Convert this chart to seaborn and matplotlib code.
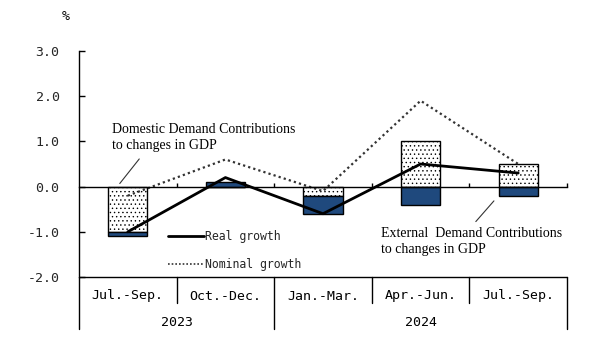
import numpy as np
import pandas as pd
import matplotlib
matplotlib.use("Agg")
import matplotlib.pyplot as plt
from matplotlib.lines import Line2D
import seaborn as sns

# ---- data ----
years = ["2023", "2023", "2024", "2024", "2024"]
quarters = ["Jul.-Sep.", "Oct.-Dec.", "Jan.-Mar.", "Apr.-Jun.", "Jul.-Sep."]
domestic = [-1.0, 0.0, -0.2, 1.0, 0.5]
external = [-0.1, 0.1, -0.4, -0.4, -0.2]
real_growth = [-1.0, 0.2, -0.6, 0.5, 0.3]
nominal_growth = [-0.2, 0.6, -0.1, 1.9, 0.5]
y_ticks = [-2.0, -1.0, 0.0, 1.0, 2.0, 3.0]

keys = [f"{y} {q}" for y, q in zip(years, quarters)]
# external stacks on domestic when both have the same sign
ext_bottom = [d if (d * e > 0) else 0.0 for d, e in zip(domestic, external)]
df = pd.DataFrame({"key": keys, "domestic": domestic, "external": external,
                   "bottom": ext_bottom, "real": real_growth,
                   "nominal": nominal_growth, "pos": np.arange(len(keys))})

sns.set_theme(style="white")
plt.rcParams["font.family"] = ["DejaVu Sans Mono"]
plt.rcParams["hatch.linewidth"] = 0.5

fig = plt.figure(figsize=(6.06, 3.42), dpi=100)
ax = fig.add_axes([79 / 606, 65 / 342, 488 / 606, 226 / 342])

BLUE = "#1F497D"
sns.barplot(data=df, x="key", y="domestic", order=keys, color="white",
            edgecolor="black", linewidth=1.0, hatch="....", width=0.4,
            saturation=1, ax=ax)
sns.barplot(data=df, x="key", y="external", order=keys, color=BLUE,
            edgecolor="black", linewidth=1.0, width=0.4, saturation=1,
            bottom=df["bottom"].values, ax=ax)

sns.lineplot(data=df, x="pos", y="real", color="black", linewidth=2.0, ax=ax,
             legend=False)
sns.lineplot(data=df, x="pos", y="nominal", color="#333333", linewidth=1.6,
             linestyle=(0, (1, 1.4)), ax=ax, legend=False)

n = len(keys)
ax.set_xlim(-0.5, n - 0.5)
ax.set_ylim(-2.0, 3.0)

# spines
for s in ["top", "right"]:
    ax.spines[s].set_visible(False)
ax.spines["left"].set_color("black")
ax.spines["left"].set_linewidth(1.0)
ax.spines["bottom"].set_position(("data", 0.0))
ax.spines["bottom"].set_color("black")
ax.spines["bottom"].set_linewidth(1.0)

ax.set_yticks(y_ticks)
ax.set_yticklabels([f"{v:.1f}" for v in y_ticks], fontsize=9.5)
ax.tick_params(axis="y", direction="in", length=4, width=1, color="black",
               pad=14, left=True)
ax.set_xticks(np.arange(n) + 0.5)
ax.set_xticklabels([])
ax.tick_params(axis="x", direction="in", length=3, width=1, color="black",
               bottom=True)
ax.set_xlabel("")
ax.set_ylabel("")

# bottom line and category table
ax.axhline(-2.0, color="black", linewidth=1.0, clip_on=False)
bt = ax.get_xaxis_transform()
for i in range(n + 1):
    b = i - 0.5
    full = (i == 0) or (i == n) or (years[i - 1] != years[i] if 0 < i < n else True)
    y_end = -52 / 226 if full else -26 / 226
    ax.plot([b, b], [0, y_end], transform=bt, color="black", linewidth=1.0,
            clip_on=False)
for i, q in enumerate(quarters):
    ax.text(i, -19 / 226, q, transform=bt, ha="center", va="center",
            fontsize=9.5, color="black")
for yr in dict.fromkeys(years):
    idx = [i for i, y in enumerate(years) if y == yr]
    ax.text(np.mean(idx), -45 / 226, yr, transform=bt, ha="center",
            va="center", fontsize=9.5, color="black")

fig.text(66 / 606, 1 - 17 / 342, "%", ha="center", va="center", fontsize=9.5,
         color="black")

# legend
handles = [Line2D([], [], color="black", linewidth=2.0),
           Line2D([], [], color="#333333", linewidth=1.2, linestyle=(0, (1, 1.2)))]
leg = ax.legend(handles, ["Real growth", "Nominal growth"], loc="upper left",
                bbox_to_anchor=((168 - 79) / 488, (277 - 230) / 226),
                frameon=False, fontsize=8.3, handlelength=3.1,
                handletextpad=0.15, labelspacing=1.3, borderpad=0,
                borderaxespad=0)

# annotations
serif = ["Liberation Serif", "DejaVu Serif"]
ax.annotate("", xy=(-0.1, 0.02), xytext=(0.135, 0.66),
            arrowprops=dict(arrowstyle="-", color="#333333", lw=0.8))
ax.text(-0.162, 1.08, "Domestic Demand Contributions\nto changes in GDP",
        ha="left", va="center", fontsize=10, family=serif, linespacing=1.3,
        color="black")
ax.annotate("", xy=(3.77, -0.27), xytext=(3.547, -0.82),
            arrowprops=dict(arrowstyle="-", color="#333333", lw=0.8))
ax.text(2.594, -1.22, "External  Demand Contributions\nto changes in GDP",
        ha="left", va="center", fontsize=10, family=serif, linespacing=1.3,
        color="black")

fig.savefig("out.png", dpi=100, facecolor="white")
